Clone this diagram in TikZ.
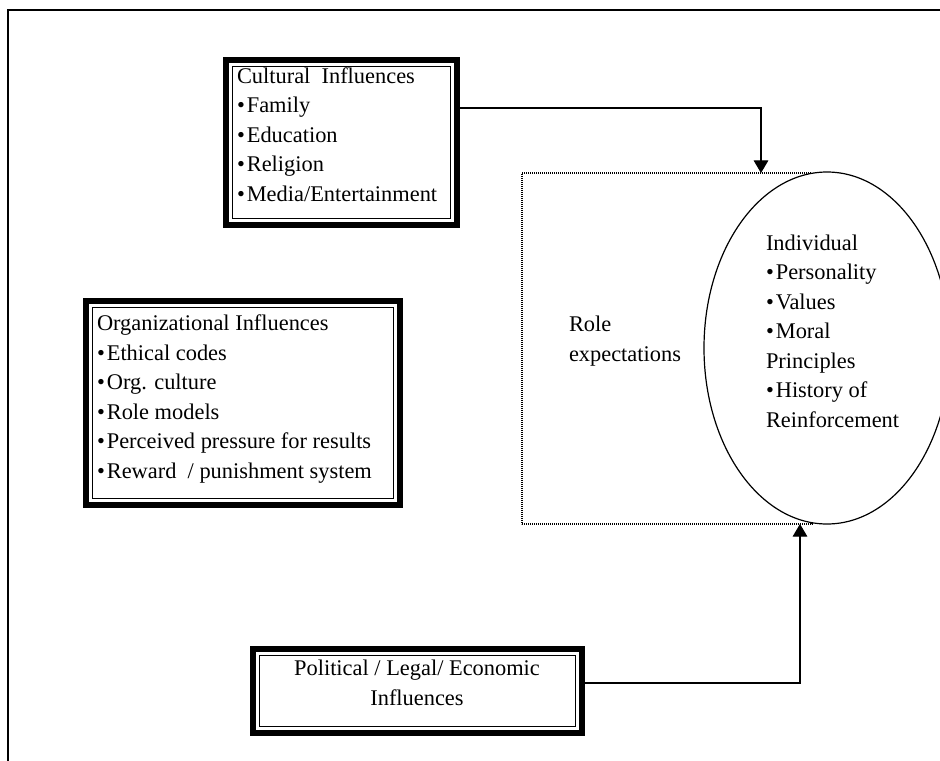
\documentclass[tikz,border=0pt]{standalone}
\usepackage{fontspec}
\setmainfont{Liberation Serif}
\usetikzlibrary{arrows.meta,fit,shapes.geometric,calc}
\newcommand{\bul}{\textbullet\hspace{1.5pt}}
\begin{document}
\begin{tikzpicture}[x=0.75pt,y=-0.75pt,
  framebox/.style={draw, line width=4.5pt, inner sep=0pt, outer sep=0pt},
  innerline/.style={line width=0.9pt},
  txt/.style={inner sep=0pt, outer sep=0pt, font=\fontsize{16.8}{22.1}\selectfont},
  conn/.style={line width=0.9pt, -{Triangle[width=11pt,length=9.5pt]}},
  rolestyle/.style={draw, line width=0.9pt, dash pattern=on 0.7pt off 0.8pt, inner sep=0pt, outer sep=0pt}]
\clip (0,0) rectangle (940,761);
\fill[white] (0,0) rectangle (940,761);

% page frame
\draw[line width=1.5pt] (940,10) -- (8,10) -- (8,761);

% influence boxes (thick outer border, thin inner border); text anchored at its last baseline
\node[framebox, fit={(226,60) (457,225)}] (cult) {};
\draw[innerline] ([shift={(6.5,6.5)}]cult.north west) rectangle ([shift={(-6.5,-6.5)}]cult.south east);
\node[txt, anchor=base west, align=left] (culttxt) at (237,201)
  {Cultural\ \ Influences\\ \bul Family\\ \bul Education\\ \bul Religion\\ \bul Media/Entertainment};

\node[framebox, fit={(86,301) (400,505)}] (org) {};
\draw[innerline] ([shift={(6.5,6.5)}]org.north west) rectangle ([shift={(-6.5,-6.5)}]org.south east);
\node[txt, anchor=base west, align=left] (orgtxt) at (97,478)
  {Organizational Influences\\ \bul Ethical codes\\ \bul Org. culture\\ \bul Role models\\
   \bul Perceived pressure for results\\ \bul Reward\ \ / punishment system};

\node[framebox, fit={(253,649) (582,733)}] (pol) {};
\draw[innerline] ([shift={(6.5,6.5)}]pol.north west) rectangle ([shift={(-6.5,-6.5)}]pol.south east);
\node[txt, anchor=base, align=center] (poltxt) at (417,705)
  {Political / Legal/ Economic\\ Influences};

% role expectations and the individual
\node[rolestyle, fit={(522,173) (812,524)}] (role) {};
\node[txt, anchor=base west, align=left] (roletxt) at (569,361) {Role\\ expectations};
\node[ellipse, draw, fill=white, line width=0.9pt, inner sep=0pt,
      minimum width=184.5pt, minimum height=264pt] (indiv) at (827,348) {};
\node[txt, anchor=base west, align=left] (indivtxt) at (766,427)
  {Individual\\ \bul Personality\\ \bul Values\\ \bul Moral\\ Principles\\ \bul History of\\ Reinforcement};

% influences acting on the individual
\draw[conn] (cult.east |- 0,108) -| (role.north -| 761,0);
\draw[conn] (pol.east |- 0,683) -| (role.south -| 800,0);
\end{tikzpicture}
\end{document}
